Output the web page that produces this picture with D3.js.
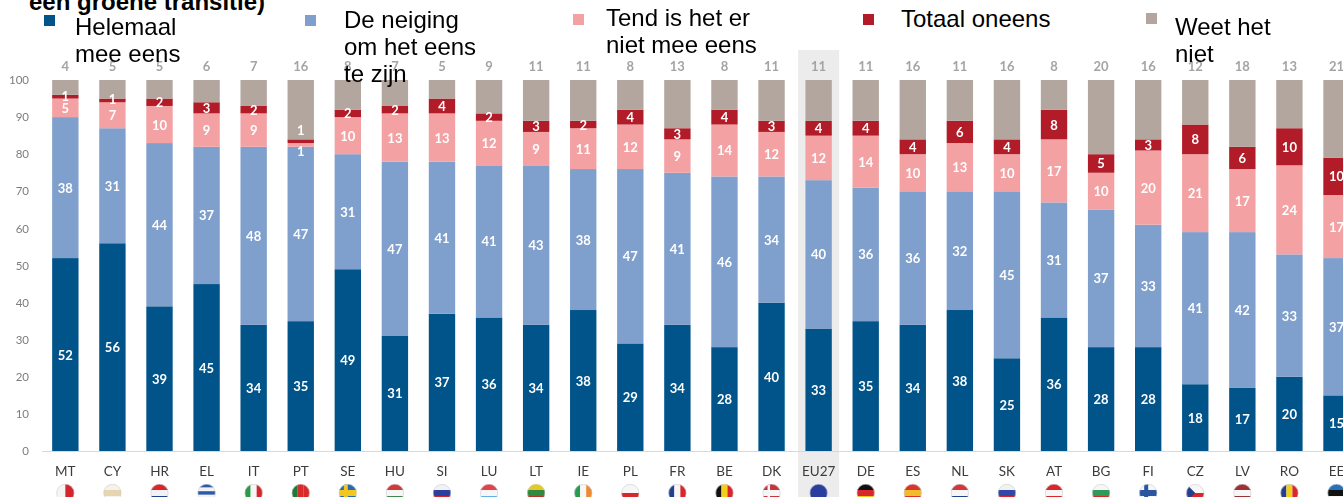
<!DOCTYPE html>
<html><head><meta charset="utf-8">
<script src="https://cdn.jsdelivr.net/npm/d3@7"></script>
<style>
html,body{margin:0;padding:0;background:#fff;overflow:hidden}
svg{display:block}
.soft{filter:blur(0.5px)}
.bar-label{font-family:Lato,"Open Sans",sans-serif;font-size:13px;font-weight:700;fill:#fff;text-anchor:middle;dominant-baseline:central}
.top-label{font-family:Lato,"Open Sans",sans-serif;font-size:13px;font-weight:700;fill:#a4a4a2;text-anchor:middle}
.legend-text{font-family:"Liberation Sans",Arial,sans-serif;font-size:24px;fill:#000}
.title{font-family:"Liberation Sans",Arial,sans-serif;font-size:24px;font-weight:700;fill:#000}
.axis text{font-family:Lato,"Open Sans",sans-serif}
</style></head><body>
<div id="chart"></div>
<script>
const categories = ["MT","CY","HR","EL","IT","PT","SE","HU","SI","LU","LT","IE","PL","FR","BE","DK","EU27","DE","ES","NL","SK","AT","BG","FI","CZ","LV","RO","EE"];
const helemaal  = [52,56,39,45,34,35,49,31,37,36,34,38,29,34,28,40,33,35,34,38,25,36,28,28,18,17,20,15];
const neiging   = [38,31,44,37,48,47,31,47,41,41,43,38,47,41,46,34,40,36,36,32,45,31,37,33,41,42,33,37];
const tendNiet  = [5,7,10,9,9,1,10,13,13,12,9,11,12,9,14,12,12,14,10,13,10,17,10,20,21,17,24,17];
const totaal    = [1,1,2,3,2,1,2,2,4,2,3,2,4,3,4,3,4,4,4,6,4,8,5,3,8,6,10,10];
const weetNiet  = [4,5,5,6,7,16,8,7,5,9,11,11,8,13,8,11,11,11,16,11,16,8,20,16,12,18,13,21];
const yTicks = [0,10,20,30,40,50,60,70,80,90,100];
const seriesNames = ["Helemaal mee eens","De neiging om het eens te zijn","Tend is het er niet mee eens","Totaal oneens","Weet het niet"];
const seriesColors = ["#005489","#7f9fcc","#f4a1a3","#b21c28","#b2a69e"];
const legendLines = [["Helemaal","mee eens"],["De neiging","om het eens","te zijn"],["Tend is het er","niet mee eens"],["Totaal oneens"],["Weet het","niet"]];
const titleFragment = "een groene transitie)";
const highlighted = "EU27";
const flagStripes = {
 MT:["v","#f4f4f4","#d4242e"],CY:["h","#f4f2ea","#e6d6b0","#f4f2ea"],HR:["h","#d8262c","#f2f2f2","#23408f"],
 EL:["h","#2a5aa8","#f2f2f2","#2a5aa8","#f2f2f2","#2a5aa8"],IT:["v","#2a9a46","#f6f6f6","#d4262c"],PT:["v","#1f7a3a","#d82a2a","#d82a2a"],
 SE:["h","#2a69b0","#f2c81e","#2a69b0"],HU:["h","#cf3a3a","#f6f6f6","#3f8a4a"],SI:["h","#f2f2f2","#2b3fa0","#d3262c"],
 LU:["h","#e0444a","#f6f6f6","#5fb2e6"],LT:["h","#e6c824","#2f8a3f","#b8322c"],IE:["v","#2a9a50","#f6f6f6","#ec8a32"],
 PL:["h","#f6f6f6","#d8262c"],FR:["v","#23408f","#f6f6f6","#d8262c"],BE:["v","#111111","#f2cf1e","#d8262c"],
 DK:["h","#c8343c","#f6f6f6","#c8343c"],EU27:["h","#2a3f9d"],DE:["h","#111111","#d8262c","#f0c41e"],
 ES:["h","#d8362c","#f0bc2a","#d8362c"],NL:["h","#d0383e","#f6f6f6","#23408f"],SK:["h","#f2f2f2","#3048a8","#d8262c"],
 AT:["h","#d8262c","#f6f6f6","#d8262c"],BG:["h","#f6f6f6","#2f9a5a","#d8262c"],FI:["h","#f6f6f6","#2a55a0","#f6f6f6"],
 CZ:["h","#f6f6f6","#d8262c"],LV:["h","#9e3038","#f6f6f6","#9e3038"],RO:["v","#23408f","#f2cf1e","#d8262c"],EE:["h","#2a70b8","#111111","#f6f6f6"]
};

const W = 1343, H = 497;
const svg = d3.select("#chart").append("svg").attr("width",W).attr("height",H);

const x = d3.scaleBand().domain(categories).range([41.8,41.8+47.08*categories.length]).paddingInner(0.44).paddingOuter(0.22);
const y = d3.scaleLinear().domain([0,100]).range([451,80]);

const soft = svg.append("g").attr("class","soft");

// EU27 highlight
const hlW = 41;
soft.append("rect")
  .attr("x",x(highlighted)+x.bandwidth()/2-hlW/2).attr("y",50)
  .attr("width",hlW).attr("height",H-50).attr("fill","#ececec");

// axes
const yAxis = d3.axisLeft(y).tickValues(yTicks).tickSize(0).tickPadding(0);
soft.append("g").attr("class","axis").attr("transform","translate(29,0)").call(yAxis)
  .call(g=>g.select(".domain").remove())
  .call(g=>g.selectAll("text").attr("fill","#7d7d7d").attr("font-size","11.5px"));
const xAxis = d3.axisBottom(x).tickSize(0).tickPadding(15);
soft.append("g").attr("class","axis").attr("transform","translate(0,451)").call(xAxis)
  .call(g=>g.select(".domain").remove())
  .call(g=>g.selectAll("text").attr("fill","#3c3c3c").attr("font-size","13.5px"));
soft.append("line").attr("x1",42).attr("x2",W).attr("y1",y(0)+0.5).attr("y2",y(0)+0.5).attr("stroke","#d9d9d9");

// stacked bars
const keys = d3.range(5);
const valuesBySeries = [helemaal,neiging,tendNiet,totaal,weetNiet];
const rows = categories.map((c,i)=>{const o={cat:c};keys.forEach(k=>o[k]=valuesBySeries[k][i]);return o;});
const stacked = d3.stack().keys(keys)(rows);

const layers = soft.selectAll("g.layer").data(stacked).join("g").attr("class","layer").attr("fill",d=>seriesColors[d.key]);
layers.selectAll("rect").data(d=>d).join("rect")
  .attr("x",d=>x(d.data.cat)).attr("width",x.bandwidth())
  .attr("y",d=>y(d[1])).attr("height",d=>y(d[0])-y(d[1]));

// value labels (the grey share sits above the bar)
const nudge = (k,r)=> (r[2]<=1 && k===2) ? 6 : (r[2]<=1 && k===3) ? -11 : (r[3]<=1 && k===3) ? -1 : 0;
soft.selectAll("g.vals").data(stacked.slice(0,4)).join("g").attr("class","vals")
  .each(function(s){
    d3.select(this).selectAll("text").data(s).join("text").attr("class","bar-label")
      .attr("x",d=>x(d.data.cat)+x.bandwidth()/2)
      .attr("y",d=>y((d[0]+d[1])/2)+nudge(s.key,d.data))
      .text(d=>d[1]-d[0]);
  });
soft.selectAll("text.top-label").data(rows).join("text").attr("class","top-label")
  .attr("x",d=>x(d.cat)+x.bandwidth()/2).attr("y",71)
  .text(d=>d[4]);

// flags
const defs = svg.append("defs");
const fr = 9, fy = 493;
const flags = soft.selectAll("g.flag").data(categories).join("g").attr("class","flag")
  .attr("transform",c=>`translate(${x(c)+x.bandwidth()/2},${fy})`);
flags.each(function(c,i){
  const id="fc"+i;
  defs.append("clipPath").attr("id",id).append("circle").attr("r",fr);
  const g=d3.select(this).append("g").attr("clip-path",`url(#${id})`);
  const [o,...cols]=flagStripes[c];
  const b=d3.scaleBand().domain(d3.range(cols.length)).range([-fr,fr]);
  g.selectAll("rect").data(cols).join("rect")
    .attr("x",(d,j)=>o==="v"?b(j):-fr).attr("y",(d,j)=>o==="h"?b(j):-fr)
    .attr("width",o==="v"?b.bandwidth():2*fr).attr("height",o==="h"?b.bandwidth():2*fr)
    .attr("fill",d=>d);
  if(c==="SE"||c==="FI"||c==="DK"){
    const cc={SE:"#f2c81e",FI:"#2a55a0",DK:"#f6f6f6"}[c];
    g.append("rect").attr("x",-4).attr("y",-fr).attr("width",c==="DK"?2.5:4).attr("height",2*fr).attr("fill",cc);
  }
  if(c==="CZ") g.append("path").attr("d",`M${-fr},${-fr}L0,0L${-fr},${fr}Z`).attr("fill","#23408f");
  d3.select(this).append("circle").attr("r",fr-0.3).attr("fill","none").attr("stroke","#cfcfcf").attr("stroke-width",0.6);
});

// title fragment and legend on top
svg.append("text").attr("class","title").attr("x",29).attr("y",10).text(titleFragment);
const legendPlace = [
 {sx:44,sy:15,tx:75,ty:35},{sx:305,sy:15,tx:344,ty:28},{sx:573,sy:14,tx:606,ty:26},
 {sx:863,sy:14,tx:901,ty:27},{sx:1146,sy:13,tx:1175,ty:35}];
const lg = svg.selectAll("g.legend").data(seriesNames).join("g").attr("class","legend");
lg.append("rect").attr("class","soft").attr("x",(d,i)=>legendPlace[i].sx).attr("y",(d,i)=>legendPlace[i].sy)
  .attr("width",11).attr("height",11).attr("fill",(d,i)=>seriesColors[i]);
lg.each(function(d,i){
  const t=d3.select(this).append("text").attr("class","legend-text");
  t.selectAll("tspan").data(legendLines[i]).join("tspan")
   .attr("x",legendPlace[i].tx).attr("y",(l,j)=>legendPlace[i].ty+j*27).text(l=>l);
});
</script>
</body></html>
